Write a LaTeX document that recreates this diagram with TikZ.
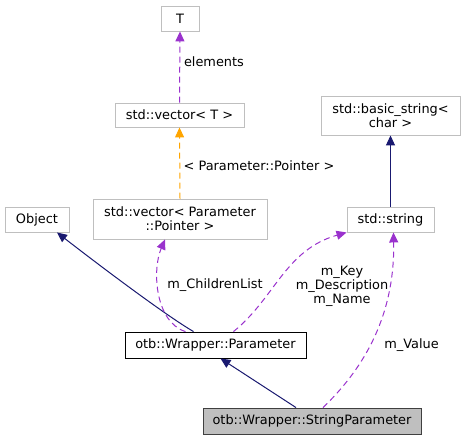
\documentclass[tikz,border=0pt]{standalone}
\usepackage{fontspec}
\setmainfont{DejaVu Sans}
\usetikzlibrary{arrows.meta}
\definecolor{navyline}{HTML}{191970}
\definecolor{memberline}{HTML}{9A32CD}
\definecolor{templline}{HTML}{FFA500}
\definecolor{boxline}{HTML}{BFBFBF}

\begin{document}
\begin{tikzpicture}%
        [x=1pt, y=-1pt,
        font=\fontsize{12.9}{14}\selectfont,
        cls/.style={draw=boxline, line width=0.9pt, fill=white, inner sep=1pt, align=center},
        inherit/.style={color=navyline, line width=1pt, -{Triangle[length=10pt,width=9pt]}},
        member/.style={color=memberline, line width=1pt, dash pattern=on 6pt off 4pt, -{Triangle[length=10pt,width=9pt]}},
        templ/.style={color=templline, line width=1pt, dash pattern=on 6pt off 4pt, -{Triangle[length=10pt,width=9pt]}},
        elabel/.style={inner sep=0pt, align=center, text=black}]
    %
    \useasboundingbox (0,0) rectangle (465,440);
    %% Drawing the classes
    %%
    \node[cls, minimum width=38pt, minimum height=25pt] (T) at (180,18.5) {T};
    \node[cls, minimum width=129pt, minimum height=24pt] (vecT) at (179.5,115) {std::vector< T >};
    \node[cls, minimum width=139pt, minimum height=39pt] (basicstr) at (390.5,115.5) {std::basic\_string<\\char >};
    \node[cls, minimum width=64pt, minimum height=25pt] (Object) at (37,219.5) {Object};
    \node[cls, minimum width=174pt, minimum height=40pt] (vecPtr) at (180,219) {std::vector< Parameter\\::Pointer >};
    \node[cls, minimum width=87pt, minimum height=25pt] (stdstr) at (390.5,219.5) {std::string};
    \node[cls, draw=black, minimum width=181pt, minimum height=26pt] (Param) at (215.5,345) {otb::Wrapper::Parameter};
    \node[cls, draw=black!75, fill=boxline, minimum width=218pt, minimum height=26pt] (StrParam) at (312,421) {otb::Wrapper::StringParameter};
    %%
    %%
    %% Drawing the relations
    %%
    \draw[member] (vecT.north) -- (T.south);
    \draw[templ] (vecPtr.north) -- (vecT.south);
    \draw[inherit] (stdstr.north) -- (basicstr.south);
    \draw[inherit] ([xshift=-22pt]Param.north) .. controls (165,315) and (95,262) .. ([xshift=20pt]Object.south);
    \draw[member] ([xshift=-30pt]Param.north) .. controls (155,322) and (152,270) .. ([xshift=-15pt]vecPtr.south);
    \draw[member] ([xshift=18pt]Param.north) .. controls (275,298) and (285,250) .. (stdstr.south west);
    \draw[member] ([xshift=11pt]StrParam.north) .. controls (360,372) and (395,320) .. ([xshift=3pt]stdstr.south);
    \draw[inherit] ([xshift=-16pt]StrParam.north) -- ([xshift=5pt]Param.south);
    %%
    %%
    %% Drawing the member names
    %%
    \node[elabel] (lelements) at (214,62) {elements};
    \node[elabel] (lpointer) at (259,166) {< Parameter::Pointer >};
    \node[elabel] (lchildren) at (215,285) {m\_ChildrenList};
    \node[elabel] (lkey) at (342,286) {m\_Key\\m\_Description\\m\_Name};
    \node[elabel] (lvalue) at (411.5,345) {m\_Value};
    %%
\end{tikzpicture}
\end{document}
